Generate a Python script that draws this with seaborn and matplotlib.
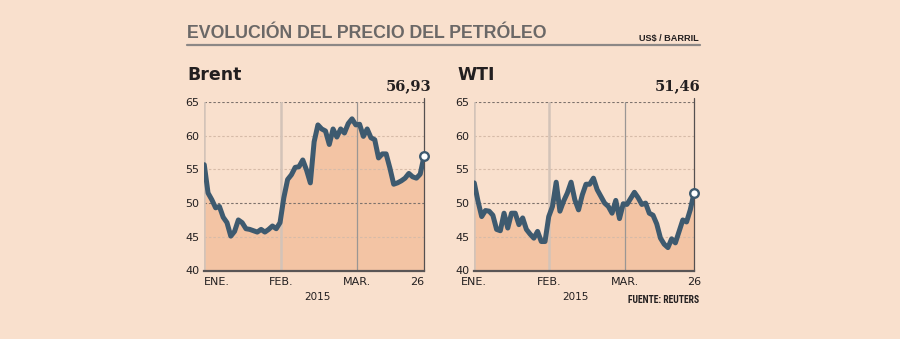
import matplotlib
matplotlib.use("Agg")
import matplotlib.pyplot as plt
from matplotlib import font_manager
from matplotlib.lines import Line2D
import seaborn as sns
import pandas as pd

# Daily closing prices (US$ per barrel), trading sessions from 2 Jan to 26 Mar 2015
brent_values = [55.7, 51.5, 50.5, 49.3, 49.5, 47.9, 47.1, 45.1, 45.8, 47.5,
                47.1, 46.2, 46.1, 45.9, 45.7, 46.1, 45.7, 46.1, 46.6, 46.2,
                47.1, 50.8, 53.5, 54.2, 55.3, 55.4, 56.4, 54.9, 53.0, 59.1,
                61.6, 61.0, 60.7, 58.7, 61.0, 59.8, 61.0, 60.4, 61.8, 62.5,
                61.6, 61.7, 59.9, 61.0, 59.7, 59.4, 56.7, 57.3, 57.3, 55.2,
                52.8, 53.0, 53.3, 53.7, 54.4, 53.9, 53.7, 54.3, 56.93]
wti_values = [53.0, 50.3, 48.0, 48.9, 48.8, 48.2, 46.1, 45.9, 48.5, 46.3,
              48.5, 48.5, 46.8, 47.8, 46.1, 45.4, 44.8, 45.8, 44.3, 44.3,
              48.0, 49.5, 53.1, 48.8, 50.3, 51.5, 53.1, 50.5, 49.0, 51.2,
              52.8, 52.8, 53.7, 52.0, 51.0, 50.0, 49.5, 48.5, 50.4, 47.7,
              49.9, 49.8, 50.7, 51.6, 50.8, 49.8, 50.0, 48.5, 48.2, 46.9,
              44.8, 43.9, 43.4, 44.7, 44.1, 45.8, 47.5, 47.2, 49.0, 51.46]

month_labels = ["ENE.", "FEB.", "MAR.", "26"]
brent_month_pos = [0, 20.3, 40.3, 58]
wti_month_pos = [0, 20.2, 40.6, 59]
y_ticks = [40, 45, 50, 55, 60, 65]
year_label = "2015"

title = "EVOLUCIÓN DEL PRECIO DEL PETRÓLEO"
unit_label = "US$ / BARRIL"
source_label = "FUENTE: REUTERS"

BG = "#f9e0cd"
FILL = "#f3c4a4"
LINE = "#3e5a6f"
TEXT = "#231f20"

sns.set_theme(style="white", rc={"figure.facecolor": BG, "axes.facecolor": BG})

available = {f.name for f in font_manager.fontManager.ttflist}


def pick(*names):
    for n in names:
        if n in available:
            return n
    return "DejaVu Sans"


NARROW = pick("Liberation Sans Narrow", "Roboto Condensed", "Lato")
HEAD = pick("Liberation Sans", "Arial", "DejaVu Sans")
plt.rcParams["font.family"] = ["DejaVu Sans"]

W, H = 900, 339
fig = plt.figure(figsize=(W / 100, H / 100), dpi=100)


def fx(px):
    return px / W


def fy(py):
    return 1 - py / H


def draw_panel(ax, values, month_pos, label_ha):
    n = len(values)
    df = pd.DataFrame({"sesion": list(range(n)), "precio": values})
    ax.set_facecolor(BG)
    ax.fill_between(df["sesion"], df["precio"], 40, color=FILL, lw=0, zorder=1)

    # horizontal guides; 50 and 65 drawn darker
    for y in y_ticks[1:]:
        dark = y in (50, 65)
        ax.axhline(y, color="#7d726c" if dark else "#d6bba8",
                   ls=(0, (2.2, 1.8)), lw=0.8, zorder=2)

    # month separators
    ax.axvline(month_pos[0], color="#d3c3b8", lw=1.8, zorder=2)
    ax.axvline(month_pos[1], color="#d3c3b8", lw=1.8, zorder=2)
    ax.axvline(month_pos[2], color="#9a9694", lw=0.9, zorder=2)
    ax.plot([n - 1, n - 1], [40, 65.6], color="#555050", lw=0.9,
            clip_on=False, zorder=3)

    sns.lineplot(data=df, x="sesion", y="precio", ax=ax, color=LINE,
                 lw=3.6, zorder=4)
    ax.plot([n - 1], [values[-1]], "o", ms=6.2, mfc="white", mec=LINE,
            mew=1.7, zorder=6, clip_on=False)

    ax.set_xlim(-0.2, n - 1)
    ax.set_ylim(40, 65)
    ax.set_xlabel("")
    ax.set_ylabel("")
    ax.set_yticks(y_ticks)
    ax.set_yticklabels([str(t) for t in y_ticks])
    ax.set_xticks(month_pos)
    ax.set_xticklabels(month_labels)
    for lab, ha in zip(ax.get_xticklabels(), label_ha):
        lab.set_ha(ha)
    ax.tick_params(axis="both", length=0, labelsize=8, colors=TEXT)
    ax.tick_params(axis="y", pad=3)
    ax.tick_params(axis="x", pad=4.5)
    for s in ("left", "right", "top"):
        ax.spines[s].set_visible(False)
    ax.spines["bottom"].set_color("#5a5555")
    ax.spines["bottom"].set_linewidth(1.6)
    ax.spines["bottom"].set_zorder(5)
    return n


ax_b = fig.add_axes([fx(203.5), fy(270.5), fx(424) - fx(203.5), fy(102) - fy(270.5)])
ax_w = fig.add_axes([fx(473.5), fy(270.5), fx(694) - fx(473.5), fy(102) - fy(270.5)])

draw_panel(ax_b, brent_values, brent_month_pos, ["left", "center", "center", "right"])
draw_panel(ax_w, wti_values, wti_month_pos, ["center", "center", "center", "center"])


def fmt(v):
    return f"{v:.2f}".replace(".", ",")


# header
fig.text(fx(187), fy(33), title, ha="left", va="center", fontsize=12.8,
         fontweight="bold", color="#6b6867", family=HEAD)
fig.add_artist(Line2D([fx(187), fx(700)], [fy(45), fy(45)], color="#8c8886",
                      lw=1.6))
fig.text(fx(699), fy(38), unit_label, ha="right", va="center", fontsize=6.6,
         fontweight="bold", color=TEXT, family=HEAD)

fig.text(fx(187), fy(75), "Brent", ha="left", va="center", fontsize=12.5,
         fontweight="bold", color=TEXT)
fig.text(fx(457), fy(75), "WTI", ha="left", va="center", fontsize=12.5,
         fontweight="bold", color=TEXT)

fig.text(fx(431), fy(86), fmt(brent_values[-1]), ha="right", va="center",
         fontsize=10.5, fontweight="bold", color=TEXT, family="DejaVu Serif")
fig.text(fx(700), fy(86), fmt(wti_values[-1]), ha="right", va="center",
         fontsize=10.5, fontweight="bold", color=TEXT, family="DejaVu Serif")

fig.text(fx(317), fy(297), year_label, ha="center", va="center", fontsize=7.5,
         color=TEXT)
fig.text(fx(575), fy(297), year_label, ha="center", va="center", fontsize=7.5,
         color=TEXT)
fig.text(fx(699), fy(300), source_label, ha="right", va="center", fontsize=7,
         fontweight="bold", color=TEXT, family=NARROW)

fig.savefig("out.png", dpi=100, facecolor=BG)
